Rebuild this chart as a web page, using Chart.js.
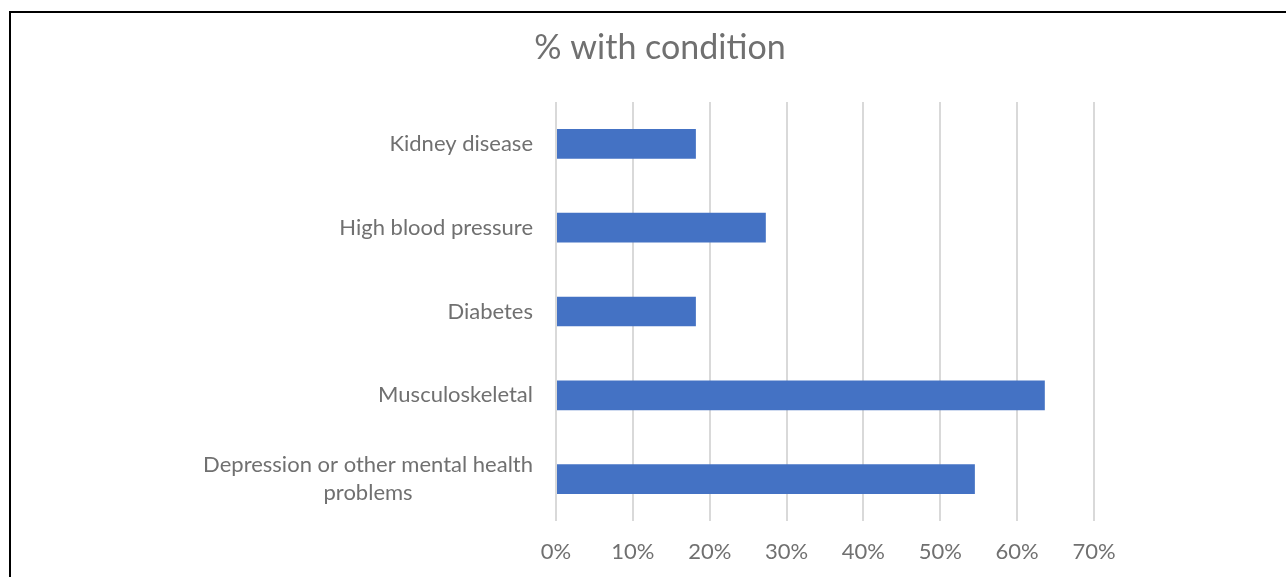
<!DOCTYPE html>
<html>
<head>
<meta charset="utf-8">
<script src="https://cdn.jsdelivr.net/npm/chart.js@4/dist/chart.umd.min.js"></script>
<style>
  html, body { margin: 0; padding: 0; background: #fff; overflow: hidden; width: 1286px; height: 577px; }
  #wrap { position: absolute; left: 0; top: 0; width: 1320px; height: 577px; }
  #frame { position: absolute; left: 9px; top: 11px; width: 1300px; height: 600px;
           border-top: 2px solid #000; border-left: 2px solid #000; pointer-events: none; }
</style>
</head>
<body>
<div id="wrap"><canvas id="c" width="1320" height="577"></canvas></div>
<div id="frame"></div>
<script>
const titleText = '% with condition';
const categories = [
  'Kidney disease',
  'High blood pressure',
  'Diabetes',
  'Musculoskeletal',
  ['Depression or other mental health', 'problems']
];
const percentValues = [18.2, 27.3, 18.2, 63.6, 54.5];
const xMin = 0;
const xMax = 70;
const xStep = 10;

const FONT = 'Lato';
const TEXT = '#707070';

const centerMultiline = {
  id: 'centerMultiline',
  beforeDraw(chart) {
    const scale = chart.scales.y;
    const items = scale.getLabelItems(chart.chartArea);
    const ctx = chart.ctx;
    items.forEach(it => {
      if (Array.isArray(it.label) && it.label.length > 1) {
        ctx.save();
        ctx.font = it.font.string;
        const w = Math.max(...it.label.map(s => ctx.measureText(s).width));
        ctx.restore();
        it.options.textAlign = 'center';
        it.options.translation = [it.options.translation[0] - w / 2, it.options.translation[1]];
      }
    });
  }
};

new Chart(document.getElementById('c'), {
  type: 'bar',
  data: {
    labels: categories,
    datasets: [{
      data: percentValues,
      backgroundColor: '#4472C4',
      borderWidth: 0,
      barPercentage: 0.355,
      categoryPercentage: 1.0,
      xAxisID: 'x',
      yAxisID: 'y'
    }]
  },
  options: {
    indexAxis: 'y',
    responsive: false,
    animation: false,
    devicePixelRatio: 1,
    layout: { padding: 0 },
    plugins: {
      legend: { display: false },
      tooltip: { enabled: false },
      title: {
        display: true,
        text: titleText,
        color: TEXT,
        font: { family: FONT, size: 34, weight: 'normal', lineHeight: 1.2 },
        padding: { top: 28, bottom: 33.2 }
      }
    },
    scales: {
      x: {
        min: xMin,
        max: xMax,
        grid: { color: '#d9d9d9', lineWidth: 2, drawTicks: false },
        border: { display: false },
        ticks: {
          stepSize: xStep,
          padding: 18,
          color: TEXT,
          font: { family: FONT, size: 22, lineHeight: 1.2 },
          callback: v => v + '%'
        },
        afterFit: s => { s.height = 56; }
      },
      y: {
        position: 'left',
        grid: { display: false, drawTicks: false },
        border: { display: false },
        ticks: {
          padding: 23,
          color: TEXT,
          font: { family: FONT, size: 22, lineHeight: 1.25 }
        },
        afterFit: s => { s.width = 556; }
      },
      spacer: {
        type: 'linear',
        position: 'right',
        display: true,
        grid: { display: false, drawTicks: false },
        border: { display: false },
        ticks: { display: false },
        afterFit: s => { s.width = 226; }
      }
    }
  },
  plugins: [centerMultiline]
});
</script>
</body>
</html>
